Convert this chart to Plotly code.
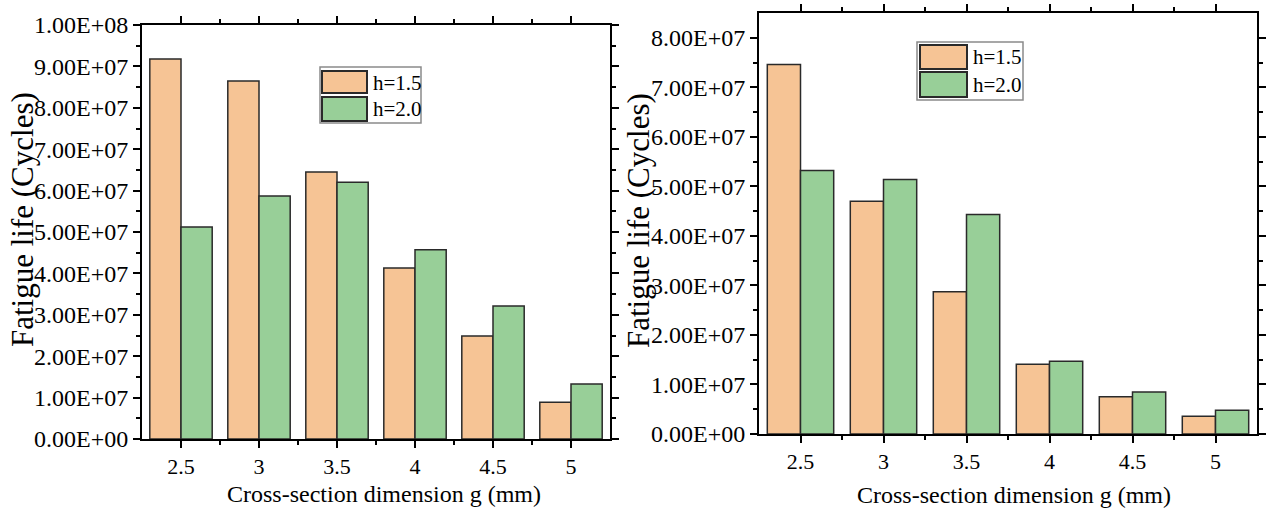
import plotly.graph_objects as go

# ---------------- data ----------------
g_values = [2.5, 3, 3.5, 4, 4.5, 5]
series_names = ["h=1.5", "h=2.0"]

left_h15 = [9.18e7, 8.65e7, 6.45e7, 4.13e7, 2.49e7, 0.89e7]
left_h20 = [5.12e7, 5.87e7, 6.20e7, 4.57e7, 3.21e7, 1.33e7]

right_h15 = [7.46e7, 4.70e7, 2.87e7, 1.41e7, 0.75e7, 0.36e7]
right_h20 = [5.32e7, 5.14e7, 4.43e7, 1.47e7, 0.85e7, 0.48e7]

x_ticks = [2.5, 3, 3.5, 4, 4.5, 5]
x_ticklabels = ["2.5", "3", "3.5", "4", "4.5", "5"]
x_minor = [2.75, 3.25, 3.75, 4.25, 4.75]

left_yticks = [0, 1e7, 2e7, 3e7, 4e7, 5e7, 6e7, 7e7, 8e7, 9e7, 1e8]
left_ylabels = ["0.00E+00", "1.00E+07", "2.00E+07", "3.00E+07", "4.00E+07",
                "5.00E+07", "6.00E+07", "7.00E+07", "8.00E+07", "9.00E+07", "1.00E+08"]
right_yticks = [0, 1e7, 2e7, 3e7, 4e7, 5e7, 6e7, 7e7, 8e7]
right_ylabels = ["0.00E+00", "1.00E+07", "2.00E+07", "3.00E+07", "4.00E+07",
                 "5.00E+07", "6.00E+07", "7.00E+07", "8.00E+07"]
y_minor_left = [5e6, 1.5e7, 2.5e7, 3.5e7, 4.5e7, 5.5e7, 6.5e7, 7.5e7, 8.5e7, 9.5e7]
y_minor_right = [5e6, 1.5e7, 2.5e7, 3.5e7, 4.5e7, 5.5e7, 6.5e7, 7.5e7]

x_title = "Cross-section dimension g (mm)"
y_title = "Fatigue life (Cycles)"

# ---------------- style ----------------
W, H = 1269, 508
FONT = "Liberation Serif"
ORANGE = "#F6C495"
GREEN = "#98CF98"
EDGE = "#2a2a2a"
colors = [ORANGE, GREEN]


def px(x):
    return x / W


def py(y):
    return 1 - y / H


fig = go.Figure()

for name, vals, col in zip(series_names, [left_h15, left_h20], colors):
    fig.add_trace(go.Bar(x=g_values, y=vals, name=name, marker=dict(color=col, line=dict(color=EDGE, width=1.5)),
                         xaxis="x", yaxis="y", showlegend=False, offsetgroup=name))
for name, vals, col in zip(series_names, [right_h15, right_h20], colors):
    fig.add_trace(go.Bar(x=g_values, y=vals, name=name, marker=dict(color=col, line=dict(color=EDGE, width=1.5)),
                         xaxis="x2", yaxis="y2", showlegend=False, offsetgroup=name))


def xaxis(domain, anchor):
    return dict(domain=domain, anchor=anchor, range=[2.25, 5.25], tickmode="array",
                tickvals=x_ticks, ticktext=x_ticklabels, showline=True, linecolor="black",
                linewidth=2, mirror="ticks", ticks="outside", ticklen=7, tickwidth=2,
                tickcolor="black", showgrid=False, zeroline=False, automargin=False,
                tickfont=dict(family=FONT, size=22, color="black"),
                minor=dict(tickmode="array", tickvals=x_minor, ticks="outside", ticklen=4,
                           tickwidth=1.5, tickcolor="black", showgrid=False))


def yaxis(domain, anchor, rng, tv, tt, mv):
    return dict(domain=domain, anchor=anchor, range=rng, tickmode="array", tickvals=tv,
                ticktext=tt, showline=True, linecolor="black", linewidth=2, mirror="ticks",
                ticks="outside", ticklen=7, tickwidth=2, tickcolor="black", showgrid=False,
                zeroline=False, automargin=False, tickfont=dict(family=FONT, size=24, color="black"),
                minor=dict(tickmode="array", tickvals=mv, ticks="outside", ticklen=4,
                           tickwidth=1.5, tickcolor="black", showgrid=False))


fig.update_layout(
    width=W, height=H,
    margin=dict(l=0, r=0, t=0, b=0, autoexpand=False),
    paper_bgcolor="white", plot_bgcolor="white",
    barmode="group", bargap=0.2, bargroupgap=0,
    font=dict(family=FONT, color="black"),
    xaxis=xaxis([px(142), px(610)], "y"),
    yaxis=yaxis([py(439), py(25)], "x", [0, 1e8], left_yticks, left_ylabels, y_minor_left),
    xaxis2=xaxis([px(759), px(1257)], "y2"),
    yaxis2=yaxis([py(434), py(13)], "x2", [0, 8.5e7], right_yticks, right_ylabels, y_minor_right),
)

annotations = []
shapes = []

# axis titles
for xc, yc in [(22, 220), (638, 220)]:
    annotations.append(dict(text=y_title, x=px(xc), y=py(yc), xref="paper", yref="paper",
                            showarrow=False, textangle=-90, xanchor="center", yanchor="middle",
                            font=dict(family=FONT, size=31, color="black")))
for xc, yc in [(384, 494), (1014, 495)]:
    annotations.append(dict(text=x_title, x=px(xc), y=py(yc), xref="paper", yref="paper",
                            showarrow=False, xanchor="center", yanchor="middle",
                            font=dict(family=FONT, size=24, color="black")))

# legends (boxed, large swatches as in the reference)
legends = [
    dict(box=(320, 67, 421, 123), sw=[(322, 71, 367, 93), (322, 97, 367, 121)], tx=371, ty=[83, 109]),
    dict(box=(917, 42, 1023, 100), sw=[(920, 45, 967, 69), (920, 72, 967, 97)], tx=971, ty=[57, 85]),
]
for lg in legends:
    x0, y0, x1, y1 = lg["box"]
    shapes.append(dict(type="rect", xref="paper", yref="paper", x0=px(x0), x1=px(x1), y0=py(y1), y1=py(y0),
                       line=dict(color="#8a8a8a", width=1.5), fillcolor="white", layer="above"))
    for (sx0, sy0, sx1, sy1), col, name, ty in zip(lg["sw"], colors, series_names, lg["ty"]):
        shapes.append(dict(type="rect", xref="paper", yref="paper", x0=px(sx0), x1=px(sx1), y0=py(sy1), y1=py(sy0),
                           line=dict(color=EDGE, width=2), fillcolor=col, layer="above"))
        annotations.append(dict(text=name, x=px(lg["tx"]), y=py(ty), xref="paper", yref="paper",
                                showarrow=False, xanchor="left", yanchor="middle",
                                font=dict(family=FONT, size=21, color="black")))

fig.update_layout(annotations=annotations, shapes=shapes)

fig.write_html("out.html")
